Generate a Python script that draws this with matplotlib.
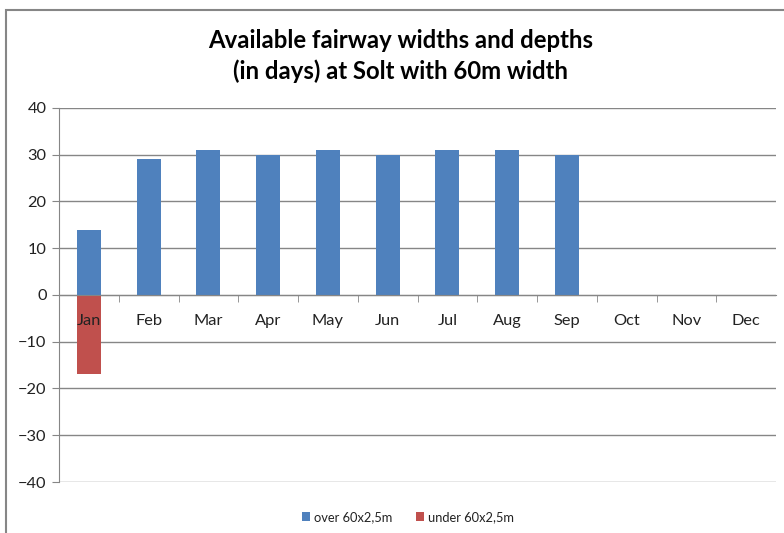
"""
Available fairway widths and depths at Solt, bar chart.
"""

import numpy as np
import matplotlib
matplotlib.use("Agg")
import matplotlib.pyplot as plt
import matplotlib.patches
from matplotlib.ticker import FixedLocator

plt.rcParams['font.family'] = ['Lato', 'DejaVu Sans']

months = ["Jan", "Feb", "Mar", "Apr", "May", "Jun",
          "Jul", "Aug", "Sep", "Oct", "Nov", "Dec"]
over_days = [14, 29, 31, 30, 31, 30, 31, 31, 30, 0, 0, 0]
under_days = [-17, 0, 0, 0, 0, 0, 0, 0, 0, 0, 0, 0]
yticks = [-40, -30, -20, -10, 0, 10, 20, 30, 40]

blue = "#4f81bd"
red = "#c0504d"
grey = "#868686"
textc = "#222222"

fig = plt.figure(figsize=(7.84, 5.33), dpi=100)
ax = fig.add_axes([59 / 784, 1 - 482 / 533, (776 - 59) / 784, (482 - 108) / 533])

x = np.arange(len(months))
# gridlines drawn by hand so they stay behind the bars while tick labels stay on top
for yv in yticks:
    ax.axhline(yv, color=grey, lw=1, zorder=0.5)
ax.bar(x, over_days, width=0.4, color=blue, label="over 60x2,5m", zorder=1)
ax.bar(x, under_days, width=0.4, color=red, label="under 60x2,5m", zorder=1)

ax.set_xlim(-0.5, len(months) - 0.5)
ax.set_ylim(-40, 40)
ax.set_yticks(yticks)

# category axis sits on the zero line
ax.spines['bottom'].set_position(('data', 0))
ax.spines['bottom'].set_color(grey)
ax.spines['left'].set_color(grey)
for kw in ("right", "top"):
    ax.spines[kw].set_visible(False)

ax.set_xticks(x)
ax.set_xticklabels(months)
ax.xaxis.set_minor_locator(FixedLocator(np.arange(0.5, len(months) - 0.5, 1)))
ax.tick_params(axis='x', which='major', length=0, pad=13.5, labelsize=11.8, labelcolor=textc)
ax.tick_params(axis='x', which='minor', length=5, color=grey, direction='out')
ax.tick_params(axis='y', length=5, color=grey, labelsize=11.8, pad=4, labelcolor=textc)

fig.text(0.511, 1 - 41 / 533, "Available fairway widths and depths", ha='center', va='center',
         fontsize=17.2, fontweight='bold')
fig.text(0.511, 1 - 71 / 533, "(in days) at Solt with 60m width", ha='center', va='center',
         fontsize=17.2, fontweight='bold')

leg = fig.legend(loc='center', bbox_to_anchor=(408 / 784, 1 - 517 / 533), ncol=2, frameon=False,
                 fontsize=9.3, handlelength=0.65, handleheight=0.65, handletextpad=0.3,
                 columnspacing=1.8)
for t in leg.get_texts():
    t.set_color(textc)

# chart area border, cut off by the image edge on the right and bottom
fig.add_artist(matplotlib.patches.Rectangle((6 / 784, -0.1), 1.2, 1 - 10 / 533 + 0.1,
                                            transform=fig.transFigure, fill=False,
                                            edgecolor=grey, lw=1.5))

fig.savefig("out.png", dpi=100)
